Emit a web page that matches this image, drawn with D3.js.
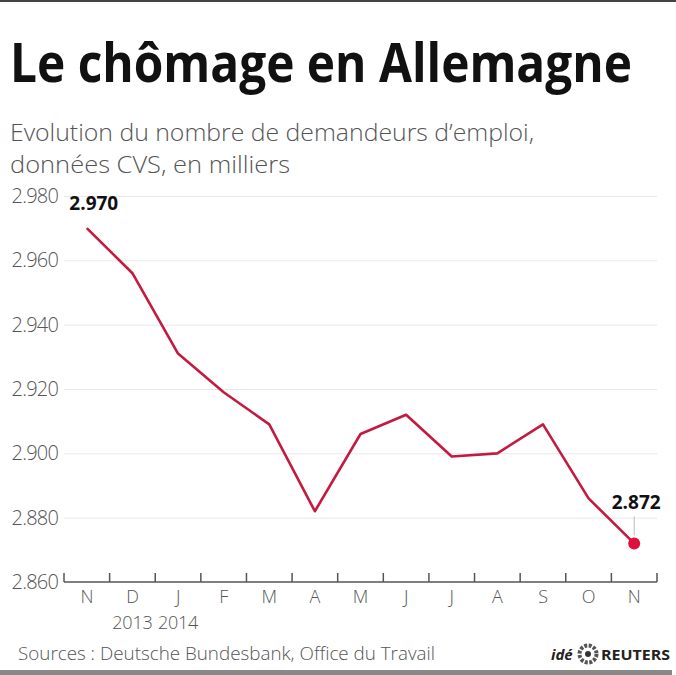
<!DOCTYPE html>
<html lang="fr">
<head>
    <meta charset="UTF-8">
    <title>Le chômage en Allemagne</title>
    <script src="https://cdnjs.cloudflare.com/ajax/libs/d3/7.8.5/d3.min.js"></script>
    <style>
        body { margin: 0; background: #fff; }
        svg { display: block; }
        .grid line { stroke: #e8e8e8; stroke-width: 1; }
        .grid path { display: none; }
        .ylab text { font: 300 20px "Open Sans", sans-serif; fill: #555; letter-spacing: -0.8px; }
        .xaxis text { font: 300 18px "Open Sans", sans-serif; fill: #555; letter-spacing: -0.2px; }
        .xaxis line { stroke: #555; stroke-width: 1.5; fill: none; }
    </style>
</head>
<body>
<svg class="chart"></svg>
<script>
    const months = ['N', 'D', 'J', 'F', 'M', 'A', 'M', 'J', 'J', 'A', 'S', 'O', 'N'];
    const values = [2970, 2956, 2931, 2919, 2909, 2882, 2906, 2912, 2899, 2900, 2909, 2886, 2872];
    const yTicks = [2860, 2880, 2900, 2920, 2940, 2960, 2980];
    const yearLabels = [{ idx: 1, text: '2013' }, { idx: 2, text: '2014' }];

    const W = 676, H = 675;
    const margin = {left: 64, right: 19, top: 196, bottom: 93};
    const width = W - margin.left - margin.right,
        height = H - margin.top - margin.bottom;

    // 2970 -> "2.970"
    const fmt = v => d3.format(',')(v).replace(',', '.');

    const svg = d3.select('.chart').attr('width', W).attr('height', H);

    // frame bars
    svg.append('rect').attr('x', 0).attr('y', 0).attr('width', W).attr('height', 2).attr('fill', '#444');
    svg.append('rect').attr('x', 0).attr('y', 670).attr('width', 672).attr('height', 5).attr('fill', '#888');

    // title, squeezed horizontally to mimic the condensed face
    const title = svg.append('text')
        .attr('x', 0).attr('y', 0)
        .style('font', 'bold 54px "Open Sans", sans-serif')
        .attr('fill', '#111')
        .text('Le chômage en Allemagne');
    const tw = title.node().getComputedTextLength();
    title.attr('transform', `translate(10,82) scale(${622 / tw},1)`);

    const sub = svg.append('g')
        .style('font', '300 24px "Open Sans", sans-serif')
        .attr('fill', '#555');
    sub.append('text').attr('x', 10).attr('y', 141)
        .attr('textLength', 524).attr('lengthAdjust', 'spacingAndGlyphs')
        .text('Evolution du nombre de demandeurs d\u2019emploi,');
    sub.append('text').attr('x', 10).attr('y', 173)
        .attr('textLength', 280).attr('lengthAdjust', 'spacingAndGlyphs')
        .text('données CVS, en milliers');

    const g = svg.append('g').attr('transform', `translate(${margin.left},${margin.top})`);

    const x = d3.scaleBand().domain(d3.range(months.length)).range([0, width]);
    const y = d3.scaleLinear().domain([2860, 2980]).range([height, 0]);

    // gridlines
    g.append('g').attr('class', 'grid')
        .call(d3.axisLeft(y).tickValues(yTicks.slice(1)).tickSize(-width).tickFormat(''));

    // y labels
    g.append('g').attr('class', 'ylab')
        .selectAll('text').data(yTicks).join('text')
        .attr('x', -6).attr('y', d => y(d)).attr('dy', '0.35em')
        .attr('text-anchor', 'end')
        .text(d => fmt(d));

    // x axis with ticks at band edges, pointing up
    const xa = g.append('g').attr('class', 'xaxis').attr('transform', `translate(0,${height})`);
    xa.append('line').attr('x1', 0).attr('x2', width).attr('y1', 0).attr('y2', 0);
    xa.selectAll('.tk').data(d3.range(months.length + 1)).join('line')
        .attr('class', 'tk')
        .attr('x1', i => i < months.length ? x(i) : width)
        .attr('x2', i => i < months.length ? x(i) : width)
        .attr('y1', 0).attr('y2', -9);
    xa.selectAll('.ml').data(months).join('text')
        .attr('class', 'ml')
        .attr('x', (d, i) => x(i) + x.bandwidth() / 2)
        .attr('y', 21).attr('text-anchor', 'middle')
        .text(d => d);
    xa.selectAll('.yl').data(yearLabels).join('text')
        .attr('class', 'yl')
        .attr('x', d => x(d.idx) + x.bandwidth() / 2)
        .attr('y', 47).attr('text-anchor', 'middle')
        .text(d => d.text);

    const line = d3.line()
        .x((d, i) => x(i) + x.bandwidth() / 2)
        .y(d => y(d));

    g.append('path').datum(values)
        .attr('d', line)
        .attr('fill', 'none')
        .attr('stroke', '#c41a40')
        .attr('stroke-width', 2.6)
        .attr('stroke-linejoin', 'round');

    const last = values.length - 1;
    const lx = x(last) + x.bandwidth() / 2;
    g.append('line')
        .attr('x1', lx).attr('x2', lx)
        .attr('y1', y(values[last]) - 8).attr('y2', y(values[last]) - 27)
        .attr('stroke', '#bbb').attr('stroke-width', 1);
    g.append('circle')
        .attr('cx', lx).attr('cy', y(values[last])).attr('r', 6)
        .attr('fill', '#e0103c');

    const lab = 'bold 19px "Open Sans", sans-serif';
    g.append('text')
        .attr('x', x(0) + x.bandwidth() / 2 + 7).attr('y', y(values[0]) - 18)
        .attr('text-anchor', 'middle')
        .style('font', lab).attr('fill', '#111')
        .text(fmt(values[0]));
    g.append('text')
        .attr('x', lx + 2).attr('y', y(values[last]) - 34)
        .attr('text-anchor', 'middle')
        .style('font', lab).attr('fill', '#111')
        .text(fmt(values[last]));

    // footer
    svg.append('text')
        .attr('x', 18).attr('y', 660)
        .attr('textLength', 417).attr('lengthAdjust', 'spacingAndGlyphs')
        .style('font', '300 19px "Open Sans", sans-serif')
        .attr('fill', '#555')
        .text('Sources : Deutsche Bundesbank, Office du Travail');

    const logo = svg.append('g').attr('transform', 'translate(0,660)');
    logo.append('text').attr('x', 551).attr('y', 0)
        .style('font', 'italic bold 15px "Open Sans", sans-serif').attr('fill', '#222')
        .text('idé');
    logo.append('circle').attr('cx', 588).attr('cy', -6).attr('r', 8.5)
        .attr('fill', 'none').attr('stroke', '#555').attr('stroke-width', 4).attr('stroke-dasharray', '3 1.5');
    logo.append('circle').attr('cx', 588).attr('cy', -6).attr('r', 3).attr('fill', '#333');
    logo.append('text').attr('x', 601).attr('y', 0)
        .attr('textLength', 69).attr('lengthAdjust', 'spacingAndGlyphs')
        .style('font', 'bold 15px "Open Sans", sans-serif').attr('fill', '#222')
        .text('REUTERS');
</script>
</body>
</html>
